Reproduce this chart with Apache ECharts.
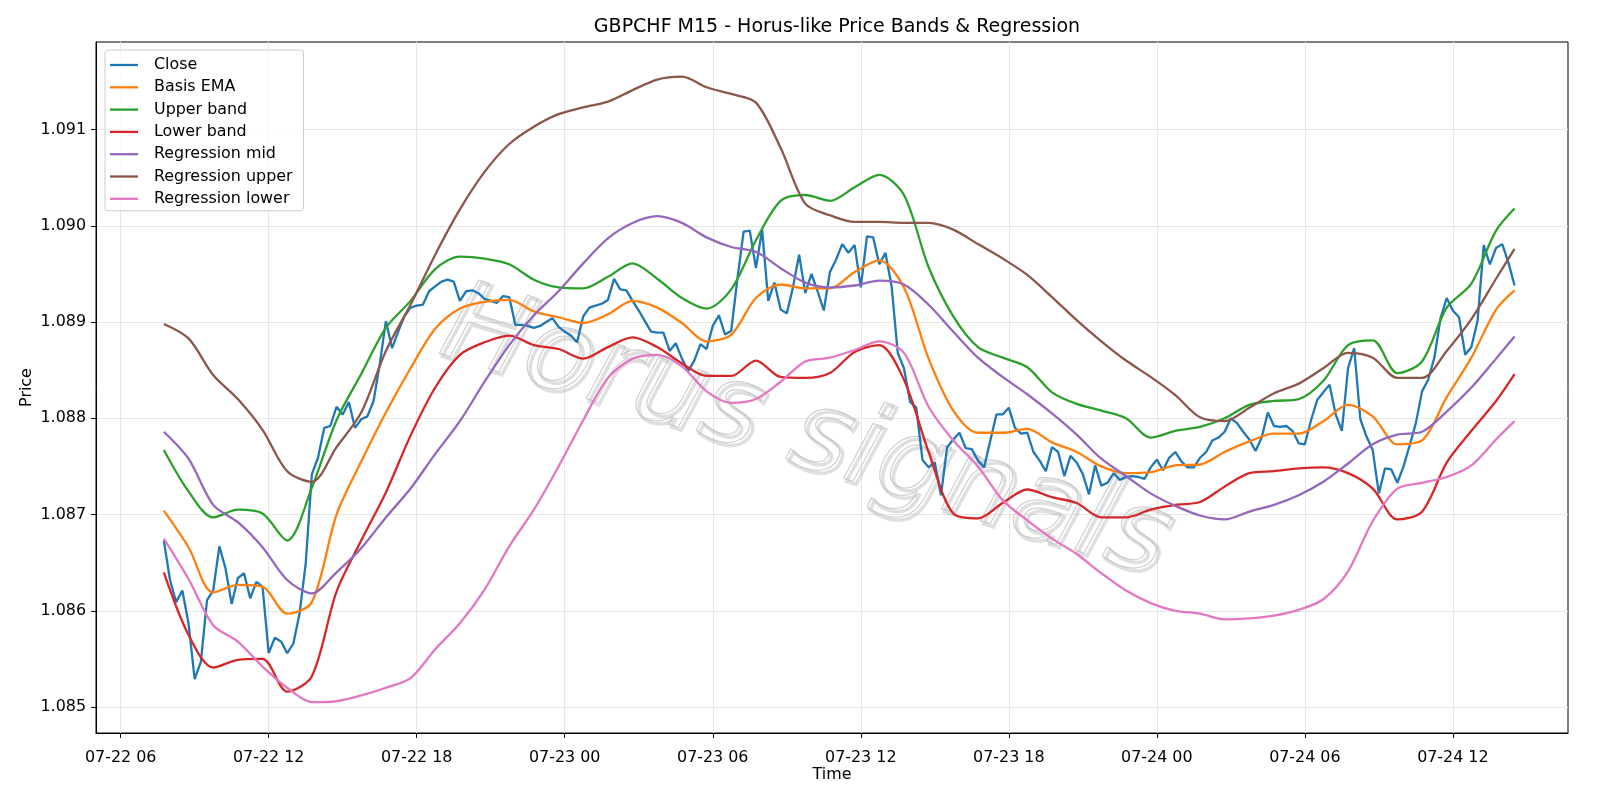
<!DOCTYPE html>
<html>
<head>
<meta charset="utf-8">
<script src="https://cdn.jsdelivr.net/npm/echarts@6/dist/echarts.min.js"></script>
<style>
  html, body { margin: 0; padding: 0; background: #fff; }
  #chart { width: 1600px; height: 800px; }
</style>
</head>
<body>
<div id="chart"></div>
<script>
// GBPCHF M15 – close every 15 minutes, the bands read once an hour

const startTime = new Date(2025, 6, 22, 7, 45).getTime();
const QUARTER = 15 * 60 * 1000;

const closeValues = [
  1.08673, 1.08632, 1.08609, 1.08621, 1.08587, 1.08529, 1.08547, 1.08611, 1.08621, 1.08667,
  1.08644, 1.08607, 1.08634, 1.08639, 1.08613, 1.0863, 1.08625, 1.08556, 1.08572, 1.08568,
  1.08556, 1.08566, 1.08597, 1.08649, 1.08742, 1.08759, 1.0879, 1.08792, 1.08812, 1.08804,
  1.08817, 1.0879, 1.08799, 1.08802, 1.08818, 1.08856, 1.08901, 1.08873, 1.0889, 1.08906,
  1.08915, 1.08917, 1.08918, 1.08932, 1.08937, 1.08942, 1.08944, 1.08942, 1.08922, 1.08932,
  1.08933, 1.0893, 1.08924, 1.08922, 1.0892, 1.08927, 1.08926, 1.08897, 1.08897, 1.08896,
  1.08894, 1.08896, 1.089, 1.08904, 1.08895, 1.0889, 1.08886, 1.08879, 1.08906, 1.08915,
  1.08917, 1.08919, 1.08923, 1.08945, 1.08934, 1.08933, 1.08922, 1.08912, 1.08901, 1.0889,
  1.08889, 1.08889, 1.0887, 1.08878, 1.08862, 1.08849, 1.0886, 1.08877, 1.08872, 1.08896,
  1.08907, 1.08887, 1.08891, 1.08945, 1.08994, 1.08995, 1.08956, 1.08996, 1.08922, 1.08941,
  1.08913, 1.08909, 1.08936, 1.0897, 1.0893, 1.0895, 1.08932, 1.08912, 1.08952, 1.08965,
  1.08981, 1.08972, 1.0898, 1.08936, 1.08989, 1.08988, 1.0896, 1.08972, 1.08937, 1.08868,
  1.08852, 1.08817, 1.08811, 1.08757, 1.08749, 1.08754, 1.0872, 1.0877, 1.08778, 1.08785,
  1.08769, 1.08768, 1.08756, 1.08749, 1.08777, 1.08804, 1.08804, 1.08811, 1.0879, 1.08784,
  1.08785, 1.08765, 1.08756, 1.08745, 1.0877, 1.08765, 1.0874, 1.08761, 1.08754, 1.08742,
  1.08721, 1.08751, 1.0873, 1.08733, 1.08743, 1.08736, 1.08739, 1.0874, 1.08739, 1.08737,
  1.08749, 1.08757, 1.08746, 1.08759, 1.08765, 1.08755, 1.08749, 1.08749, 1.08759, 1.08765,
  1.08777, 1.0878, 1.08786, 1.088, 1.08795, 1.08786, 1.08778, 1.08766, 1.0878, 1.08806,
  1.08792, 1.08791, 1.08792, 1.08787, 1.08774, 1.08773, 1.08798, 1.08819, 1.08827, 1.08835,
  1.08804, 1.08787, 1.08852, 1.08873, 1.08799, 1.08781, 1.08767, 1.08722, 1.08748, 1.08747,
  1.08733, 1.0875, 1.08772, 1.08795, 1.08828, 1.0884, 1.08863, 1.08904, 1.08925, 1.08912,
  1.08905, 1.08866, 1.08874, 1.08901, 1.0898, 1.0896, 1.08977, 1.08981, 1.08962, 1.08938
];

// hourly readings, 07:45 onwards (last one at the final bar)
const basisEma = [
  1.08704, 1.08666, 1.08619, 1.08627, 1.08625, 1.08597, 1.08609, 1.087, 1.08755, 1.08806,
  1.08852, 1.08893, 1.08914, 1.08921, 1.08923, 1.08911, 1.08905, 1.08899, 1.08908, 1.08922,
  1.08915, 1.08899, 1.0888, 1.08887, 1.08925, 1.08939, 1.08935, 1.08935, 1.08952, 1.08964,
  1.08936, 1.08862, 1.08808, 1.08785, 1.08785, 1.08789, 1.08775, 1.08765, 1.0875, 1.08743,
  1.08744, 1.08751, 1.08752, 1.08765, 1.08776, 1.08784, 1.08784, 1.08797, 1.08814, 1.08802,
  1.08773, 1.08777, 1.08822, 1.08863, 1.08913, 1.08933
];
const upperBand = [
  1.08767, 1.08724, 1.08697, 1.08705, 1.08701, 1.08673, 1.08728, 1.08798, 1.08846, 1.08894,
  1.08922, 1.08955, 1.08968, 1.08966, 1.0896, 1.08944, 1.08936, 1.08935, 1.08947, 1.08961,
  1.08945, 1.08925, 1.08914, 1.08934, 1.08985, 1.09026, 1.09032, 1.09026, 1.0904, 1.09053,
  1.09032, 1.08957, 1.08906, 1.08874, 1.08863, 1.08853, 1.08827, 1.08815, 1.08808, 1.088,
  1.0878, 1.08787, 1.08791, 1.088, 1.08814, 1.08818, 1.0882, 1.08839, 1.08876, 1.08881,
  1.08847, 1.08859, 1.08915, 1.0894, 1.08995, 1.09018
];
const lowerBand = [
  1.0864, 1.08575, 1.08541, 1.08549, 1.0855, 1.08516, 1.08532, 1.0862, 1.08673, 1.08723,
  1.08782, 1.08832, 1.08866, 1.08879, 1.08886, 1.08876, 1.08872, 1.08862, 1.08874, 1.08884,
  1.08874, 1.08857, 1.08844, 1.08844, 1.0886, 1.08843, 1.08842, 1.08847, 1.08869, 1.08876,
  1.0884, 1.08765, 1.08701, 1.08696, 1.08712, 1.08726, 1.08718, 1.08712, 1.08697, 1.08697,
  1.08705, 1.0871, 1.08713, 1.08729, 1.08743, 1.08745, 1.08748, 1.08749, 1.08743, 1.08727,
  1.08695, 1.08703, 1.08754, 1.08787, 1.08818, 1.08846
];
const regMid = [
  1.08786, 1.08758, 1.0871, 1.08692, 1.08666, 1.08632, 1.08618, 1.0864, 1.08665, 1.08697,
  1.08727, 1.08763, 1.08797, 1.08838, 1.08876, 1.08907, 1.08932, 1.08961, 1.08987, 1.09003,
  1.0901, 1.09003, 1.08988, 1.08978, 1.08973, 1.08956, 1.08941, 1.08936, 1.08938, 1.08943,
  1.08939, 1.08918, 1.0889, 1.08863, 1.08843, 1.08825, 1.08805, 1.08783, 1.08758, 1.0874,
  1.08722, 1.08709, 1.08699, 1.08695, 1.08703, 1.0871, 1.0872, 1.08734, 1.08753, 1.08773,
  1.08783, 1.08786, 1.08807, 1.08832, 1.08862, 1.08885
];
const regUpper = [
  1.08898, 1.08883, 1.08845, 1.0882, 1.08788, 1.08745, 1.08734, 1.0877, 1.08806, 1.0887,
  1.08918, 1.0897, 1.09017, 1.09056, 1.09085, 1.09103, 1.09116, 1.09123, 1.09129, 1.09141,
  1.09152, 1.09155, 1.09144, 1.09137, 1.09128, 1.09081, 1.09023, 1.09011, 1.09004, 1.09004,
  1.09003, 1.09003, 1.08996, 1.08981, 1.08966, 1.08949, 1.08926, 1.08902, 1.0888, 1.0886,
  1.08843, 1.08824, 1.08801, 1.08797, 1.08811, 1.08826, 1.08836, 1.08852, 1.08868, 1.08863,
  1.08842, 1.08842, 1.0887, 1.08903, 1.08945, 1.08976
];
const regLower = [
  1.08675, 1.08633, 1.08585, 1.08568, 1.08542, 1.0852, 1.08505, 1.08506, 1.08512, 1.0852,
  1.0853, 1.0856, 1.08587, 1.08622, 1.08667, 1.08705, 1.0875, 1.08798, 1.08842, 1.08862,
  1.08866, 1.08854, 1.08828, 1.08816, 1.0882, 1.08838, 1.08859, 1.08863, 1.08871, 1.0888,
  1.08868, 1.08812, 1.08777, 1.0875, 1.08715, 1.08694, 1.08675, 1.08659, 1.08639, 1.08621,
  1.08608, 1.086, 1.08597, 1.08591, 1.08592, 1.08595, 1.08601, 1.08612, 1.08641, 1.08693,
  1.08727, 1.08733, 1.08739, 1.08751, 1.08778, 1.08797
];

// axis ticks: every 6 hours, price every 0.001
const tickTimes = [
  new Date(2025, 6, 22, 6), new Date(2025, 6, 22, 12), new Date(2025, 6, 22, 18),
  new Date(2025, 6, 23, 0), new Date(2025, 6, 23, 6), new Date(2025, 6, 23, 12),
  new Date(2025, 6, 23, 18), new Date(2025, 6, 24, 0), new Date(2025, 6, 24, 6),
  new Date(2025, 6, 24, 12),
].map((d) => d.getTime());
const priceTicks = [1.085, 1.086, 1.087, 1.088, 1.089, 1.09, 1.091];

const lastTime = startTime + (closeValues.length - 1) * QUARTER;

function quarterPoints(vals) {
  return vals.map((v, i) => [startTime + i * QUARTER, v]);
}
function hourPoints(vals) {
  return vals.map((v, k) => [Math.min(startTime + k * 4 * QUARTER, lastTime), v]);
}

const pad = (n) => String(n).padStart(2, "0");
const FONT = "DejaVu Sans";
const FS = 15.9;

const seriesDefs = [
  { name: "Close", color: "#1f77b4", data: quarterPoints(closeValues), smooth: false },
  { name: "Basis EMA", color: "#ff7f0e", data: hourPoints(basisEma) },
  { name: "Upper band", color: "#2ca02c", data: hourPoints(upperBand) },
  { name: "Lower band", color: "#d62728", data: hourPoints(lowerBand) },
  { name: "Regression mid", color: "#9467bd", data: hourPoints(regMid) },
  { name: "Regression upper", color: "#8c564b", data: hourPoints(regUpper) },
  { name: "Regression lower", color: "#e377c2", data: hourPoints(regLower) },
];

const myChart = echarts.init(document.getElementById("chart"), null, { renderer: "canvas" });

const watermark = {
  text: "Horus signals",
  font: "italic 112px " + FONT,
  align: "center",
  verticalAlign: "middle",
  fill: "rgba(255,255,255,0)",
};

const option = {
  animation: false,
  backgroundColor: "#ffffff",
  textStyle: { fontFamily: FONT },
  title: {
    text: "GBPCHF M15 - Horus-like Price Bands & Regression",
    left: 832,
    textAlign: "center",
    top: 13,
    textStyle: { fontSize: 19, fontWeight: "normal", color: "#000", fontFamily: FONT },
  },
  legend: {
    orient: "vertical",
    left: 105,
    top: 50,
    icon: "path://M0,0 L28,0 L28,2.3 L0,2.3 Z",
    itemWidth: 28,
    itemHeight: 16,
    itemGap: 6.3,
    padding: [7, 11, 4, 5],
    backgroundColor: "rgba(255,255,255,0.8)",
    borderColor: "#cccccc",
    borderWidth: 1,
    borderRadius: 3,
    textStyle: { fontSize: FS, color: "#000", fontFamily: FONT, padding: [0, 0, 0, 11] },
    data: seriesDefs.map((s) => s.name),
  },
  grid: { left: 96, right: 32, top: 42, bottom: 67, show: true, borderColor: "#000", borderWidth: 1 },
  xAxis: {
    type: "value",
    min: new Date(2025, 6, 22, 5, 0).getTime(),
    max: new Date(2025, 6, 24, 16, 40).getTime(),
    name: "Time",
    nameLocation: "middle",
    nameGap: 34,
    nameMoveOverlap: false,
    nameTextStyle: { fontSize: FS, color: "#000", fontFamily: FONT },
    axisLine: { show: true, lineStyle: { color: "#000", width: 1 } },
    axisTick: { show: true, length: 5, customValues: tickTimes, lineStyle: { color: "#000" } },
    axisLabel: {
      customValues: tickTimes,
      fontSize: FS,
      color: "#000",
      margin: 17,
      fontFamily: FONT,
      formatter: (val) => {
        const d = new Date(val);
        return pad(d.getMonth() + 1) + "-" + pad(d.getDate()) + " " + pad(d.getHours());
      },
    },
    splitLine: { show: true, lineStyle: { color: "#e6e6e6", width: 1 } },
  },
  yAxis: {
    type: "value",
    min: 1.08473,
    max: 1.09191,
    name: "Price",
    nameLocation: "middle",
    nameGap: 61,
    nameMoveOverlap: false,
    nameTextStyle: { fontSize: FS, color: "#000", fontFamily: FONT },
    axisLine: { show: true, lineStyle: { color: "#000", width: 1 } },
    axisTick: { show: true, length: 5, customValues: priceTicks, lineStyle: { color: "#000" } },
    axisLabel: {
      customValues: priceTicks,
      fontSize: FS,
      color: "#000",
      margin: 10,
      fontFamily: FONT,
      formatter: (v) => Number(v).toFixed(3),
    },
    splitLine: { show: true, lineStyle: { color: "#e6e6e6", width: 1 } },
  },
  graphic: [
    {
      type: "text",
      z: 1,
      x: 808,
      y: 439,
      rotation: -0.3,
      silent: true,
      style: Object.assign({}, watermark, { stroke: "rgba(140,140,140,0.28)", lineWidth: 3.5 }),
    },
    {
      type: "text",
      z: 1,
      x: 805,
      y: 436,
      rotation: -0.3,
      silent: true,
      style: Object.assign({}, watermark, { stroke: "rgba(185,185,185,0.65)", lineWidth: 1.2 }),
    },
  ],
  series: seriesDefs.map((s) => ({
    name: s.name,
    type: "line",
    data: s.data,
    showSymbol: false,
    symbol: "none",
    smooth: s.smooth === false ? false : 0.3,
    z: 5,
    color: s.color,
    lineStyle: { color: s.color, width: 2.3 },
  })),
};

myChart.setOption(option);
</script>
</body>
</html>
